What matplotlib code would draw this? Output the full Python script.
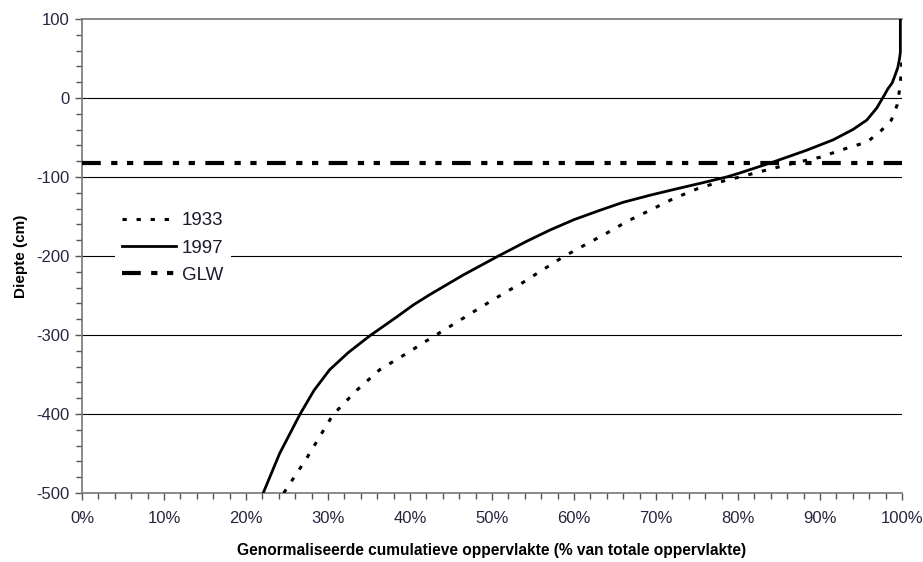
import matplotlib
matplotlib.use("Agg")
import matplotlib.pyplot as plt
from matplotlib.ticker import MultipleLocator, FuncFormatter

plt.rcParams['font.family'] = ['Liberation Sans', 'DejaVu Sans']

# 1997 curve (x in %, depth in cm)
x_1997 = [22.1, 24.1, 26.6, 28.3, 30.2, 32.5, 35.1, 38.4, 40.4, 42.4, 46.5, 50.6, 54.3,
          57.1, 60.0, 63.2, 66.0, 69.3, 72.5, 75.4, 78.6, 80.2, 84.3, 88.4, 91.6,
          94.0, 95.7, 96.9, 97.7, 98.3, 98.8, 99.2, 99.5, 99.7, 99.8, 99.8]
d_1997 = [-500, -450, -400, -370, -344, -322, -301, -277, -262, -249, -224, -201, -181,
          -167, -154, -142, -132, -123, -115, -108, -100, -95, -81, -66, -53,
          -40, -28, -13, 1, 12, 19, 30, 39, 50, 58, 100]

# 1933 curve
x_1933 = [24.6, 27.4, 30.6, 33.5, 36.3, 39.8, 41.6, 44.9, 48.3, 51.8, 53.7, 55.5,
          58.7, 61.5, 64.0, 66.5, 69.3, 72.0, 75.0, 77.5, 80.2, 84.3, 87.0, 90.0,
          93.7, 95.7, 97.3, 98.7, 99.4, 99.7, 99.9, 100.0]
d_1933 = [-500, -456, -401, -370, -344, -322, -310, -289, -267, -245, -234, -222,
          -201, -185, -171, -156, -142, -128, -115, -107, -100, -89, -82, -75,
          -62, -56, -43, -28, -9, 10, 30, 52]

# GLW level
glw_x = [0, 100]
glw_d = [-82, -82]

fig = plt.figure(figsize=(9.23, 5.62), dpi=100)
ax = fig.add_axes([82/923, 1-493/562, 820/923, 474/562])

for yv in [0, -100, -200, -300, -400]:
    ax.axhline(yv, color='black', lw=0.8, zorder=1)

ax.plot(x_1933, d_1933, color='black', lw=2.2, linestyle=(0, (1.4, 3.2)), label='1933', zorder=3)
ax.plot(x_1997, d_1997, color='black', lw=2.0, linestyle='-', label='1997', zorder=3,
        solid_joinstyle='round')
ax.plot(glw_x, glw_d, color='black', lw=3.0, linestyle=(0, (4.5, 2.5, 1.5, 2.3, 1.5, 2.5)),
        label='GLW', zorder=3, dash_capstyle='butt')

ax.set_xlim(0, 100)
ax.set_ylim(-500, 100)

ax.xaxis.set_major_locator(MultipleLocator(10))
ax.xaxis.set_minor_locator(MultipleLocator(2))
ax.yaxis.set_major_locator(MultipleLocator(100))
ax.yaxis.set_minor_locator(MultipleLocator(20))
ax.xaxis.set_major_formatter(FuncFormatter(lambda v, p: f"{int(round(v))}%"))
ax.yaxis.set_major_formatter(FuncFormatter(lambda v, p: f"{int(round(v))}"))

lab_col = '#262640'
ax.tick_params(axis='both', which='major', length=5, width=1, color='#555555',
               labelsize=12, labelcolor=lab_col, direction='out')
ax.tick_params(axis='both', which='minor', length=4, width=1, color='#555555', direction='out')
ax.tick_params(axis='x', pad=8)
ax.tick_params(axis='y', pad=4)

for s in ['left', 'bottom', 'top']:
    ax.spines[s].set_color('#777777')
    ax.spines[s].set_linewidth(1.2)
ax.spines['right'].set_visible(False)

ax.set_xlabel('Genormaliseerde cumulatieve oppervlakte (% van totale oppervlakte)',
              fontsize=11.2, fontweight='bold', labelpad=12)
ax.set_ylabel('Diepte (cm)', fontsize=11, fontweight='bold', labelpad=6)

leg = ax.legend(loc='center left', bbox_to_anchor=(0.040, 0.517), borderaxespad=0,
                frameon=True, facecolor='white', edgecolor='none', framealpha=1,
                fontsize=13.5, handlelength=2.9, handletextpad=0.3, labelspacing=0.55,
                borderpad=0.38, fancybox=False)
leg.set_zorder(5)
for t in leg.get_texts():
    t.set_color('#1a1a2e')

fig.savefig('out.png', dpi=100)
